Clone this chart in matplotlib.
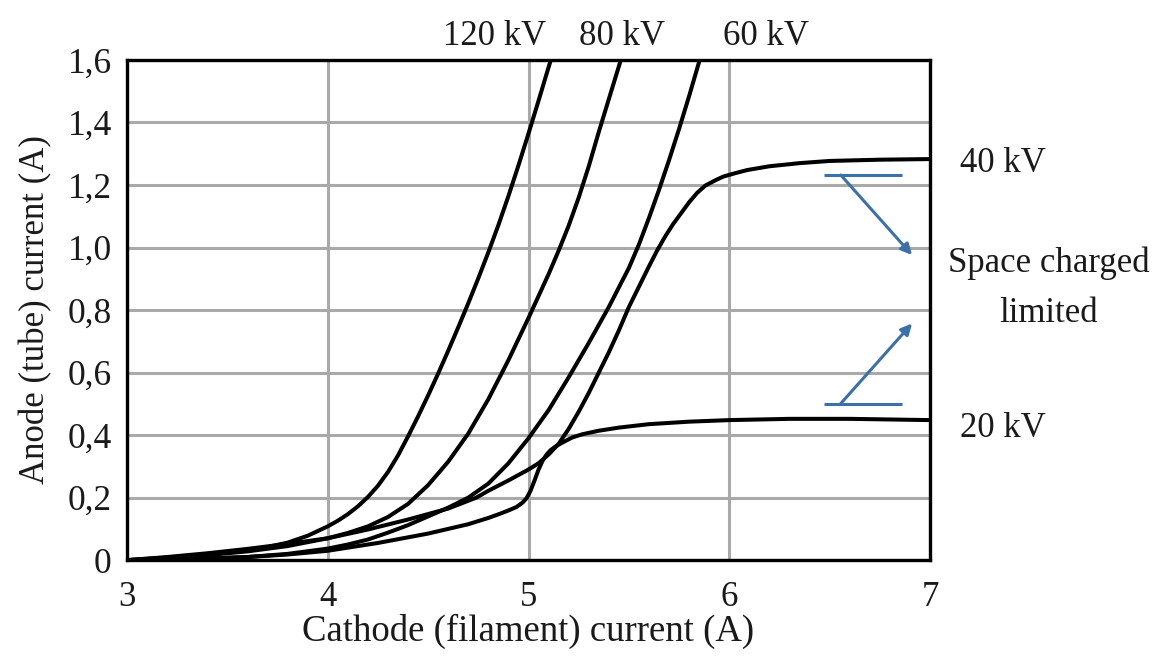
import matplotlib
matplotlib.use("Agg")
import matplotlib.pyplot as plt

# Anode (tube) current against cathode (filament) current, one curve per tube voltage.
# Values.
kv_labels = ["120 kV", "80 kV", "60 kV", "40 kV", "20 kV"]

fil_120 = [3.0, 3.2, 3.4, 3.6, 3.7, 3.8, 3.9, 4.0, 4.05, 4.1, 4.15, 4.2, 4.25, 4.3,
           4.35, 4.4, 4.45, 4.5, 4.55, 4.6, 4.65, 4.7, 4.75, 4.8, 4.85, 4.9, 4.95,
           5.0, 5.05, 5.1, 5.111]
tube_120 = [0.0, 0.008, 0.018, 0.032, 0.042, 0.056, 0.078, 0.108, 0.126, 0.147, 0.172,
            0.202, 0.238, 0.282, 0.335, 0.396, 0.46, 0.527, 0.597, 0.67, 0.745, 0.822,
            0.902, 0.985, 1.072, 1.165, 1.263, 1.365, 1.47, 1.577, 1.6]

fil_80 = [3.0, 3.2, 3.4, 3.6, 3.8, 4.0, 4.1, 4.2, 4.3, 4.4, 4.5, 4.6, 4.7, 4.8, 4.9,
          5.0, 5.05, 5.1, 5.15, 5.2, 5.25, 5.3, 5.35, 5.4, 5.45, 5.46]
tube_80 = [0.0, 0.007, 0.016, 0.028, 0.045, 0.07, 0.087, 0.108, 0.138, 0.18, 0.24,
           0.315, 0.405, 0.515, 0.64, 0.775, 0.845, 0.915, 0.99, 1.07, 1.16, 1.26,
           1.37, 1.475, 1.58, 1.6]

fil_60 = [3.0, 3.3, 3.6, 3.8, 4.0, 4.1, 4.2, 4.3, 4.4, 4.5, 4.6, 4.7, 4.8, 4.9, 5.0,
          5.1, 5.2, 5.3, 5.4, 5.5, 5.55, 5.6, 5.65, 5.7, 5.75, 5.8, 5.85, 5.853]
tube_60 = [0.0, 0.003, 0.01, 0.02, 0.037, 0.05, 0.066, 0.088, 0.112, 0.14, 0.168, 0.2,
           0.245, 0.31, 0.39, 0.48, 0.585, 0.695, 0.81, 0.935, 1.01, 1.095, 1.185, 1.28,
           1.38, 1.485, 1.595, 1.6]

fil_40 = [3.0, 3.2, 3.4, 3.6, 3.8, 4.0, 4.2, 4.4, 4.6, 4.74, 4.8, 4.9, 5.0, 5.05, 5.1,
          5.15, 5.2, 5.25, 5.3, 5.35, 5.4, 5.45, 5.5, 5.55, 5.6, 5.64, 5.68, 5.72, 5.76,
          5.8, 5.84, 5.88, 5.93, 5.97, 6.03, 6.09, 6.2, 6.35, 6.5, 6.75, 7.0]
tube_40 = [0.0, 0.01, 0.022, 0.036, 0.052, 0.07, 0.098, 0.13, 0.165, 0.2, 0.222, 0.255,
           0.29, 0.31, 0.338, 0.372, 0.42, 0.475, 0.535, 0.6, 0.665, 0.735, 0.81, 0.875,
           0.94, 0.99, 1.035, 1.075, 1.11, 1.145, 1.175, 1.198, 1.215, 1.227, 1.238,
           1.248, 1.26, 1.27, 1.277, 1.281, 1.283]

fil_20 = [3.0, 3.3, 3.6, 3.8, 4.0, 4.25, 4.5, 4.7, 4.8, 4.86, 4.9, 4.94, 4.97, 4.99,
          5.01, 5.03, 5.05, 5.07, 5.09, 5.11, 5.14, 5.18, 5.22, 5.27, 5.35, 5.45, 5.6,
          5.8, 6.0, 6.3, 6.6, 7.0]
tube_20 = [0.0, 0.003, 0.01, 0.018, 0.03, 0.055, 0.085, 0.115, 0.135, 0.149, 0.159,
           0.17, 0.184, 0.198, 0.222, 0.255, 0.29, 0.318, 0.338, 0.352, 0.366, 0.38,
           0.393, 0.403, 0.414, 0.424, 0.435, 0.443, 0.448, 0.452, 0.452, 0.448]

x_ticks = [3, 4, 5, 6, 7]
x_tick_labels = ["3", "4", "5", "6", "7"]
y_ticks = [0, 0.2, 0.4, 0.6, 0.8, 1.0, 1.2, 1.4, 1.6]
y_tick_labels = ["0", "0,2", "0,4", "0,6", "0,8", "1,0", "1,2", "1,4", "1,6"]

# blue markers pointing at the two plateaus (space charge limited)
bracket_x = [6.47, 6.86]
bracket_levels = [1.232, 0.501]
arrow_start_x = 6.555
arrow_tips = [(6.91, 0.976), (6.91, 0.757)]

curves = [
    (fil_120, tube_120),
    (fil_80, tube_80),
    (fil_60, tube_60),
    (fil_40, tube_40),
    (fil_20, tube_20),
]

plt.rcParams["font.family"] = ["Liberation Serif", "DejaVu Serif"]
text_color = "#1a1a1a"
arrow_color = "#3d70a6"
fs = 25

fig = plt.figure(figsize=(11.54, 6.59), dpi=100)
ax = fig.add_axes([0.110, 0.150, 0.696, 0.759])

for fil, tube in curves:
    ax.plot(fil, tube, color="black", lw=2.9, solid_joinstyle="round",
            solid_capstyle="round", zorder=3)

# curve labels: the steep ones above the plot, the flat ones to the right
ax.text(4.83, 1.648, kv_labels[0], ha="center", va="baseline", fontsize=fs,
        color=text_color, clip_on=False)
ax.text(5.466, 1.648, kv_labels[1], ha="center", va="baseline", fontsize=fs,
        color=text_color, clip_on=False)
ax.text(6.18, 1.648, kv_labels[2], ha="center", va="baseline", fontsize=fs,
        color=text_color, clip_on=False)
ax.text(7.364, 1.243, kv_labels[3], ha="center", va="baseline", fontsize=fs,
        color=text_color, clip_on=False)
ax.text(7.364, 0.395, kv_labels[4], ha="center", va="baseline", fontsize=fs,
        color=text_color, clip_on=False)
ax.text(7.59, 0.922, "Space charged", ha="center", va="baseline", fontsize=fs,
        color=text_color, clip_on=False)
ax.text(7.59, 0.763, "limited", ha="center", va="baseline", fontsize=fs,
        color=text_color, clip_on=False)

for level, tip in zip(bracket_levels, arrow_tips):
    ax.hlines(level, bracket_x[0], bracket_x[1], color=arrow_color, lw=2.2, zorder=4)
    ax.annotate("", xy=tip, xytext=(arrow_start_x, level),
                arrowprops=dict(arrowstyle="-|>", color=arrow_color, lw=2.2,
                                mutation_scale=16, shrinkA=0, shrinkB=0),
                zorder=4)

ax.set_xlim(3, 7)
ax.set_ylim(0, 1.6)
ax.set_xticks(x_ticks)
ax.set_xticklabels(x_tick_labels)
ax.set_yticks(y_ticks)
ax.set_yticklabels(y_tick_labels)
ax.tick_params(axis="x", length=0, pad=15, labelsize=fs, labelcolor=text_color)
ax.tick_params(axis="y", length=0, pad=11, labelsize=25.5, labelcolor=text_color)

ax.grid(True, color="#a9a9a9", lw=2.2)
ax.set_axisbelow(True)
for spine in ax.spines.values():
    spine.set_linewidth(2.4)
    spine.set_color("black")
    spine.set_zorder(5)

ax.set_xlabel("Cathode (filament) current (A)", fontsize=26.5, color=text_color,
              labelpad=0)
ax.set_ylabel("Anode (tube) current (A)", fontsize=25, color=text_color, labelpad=11)

fig.savefig("out.png", dpi=100)
